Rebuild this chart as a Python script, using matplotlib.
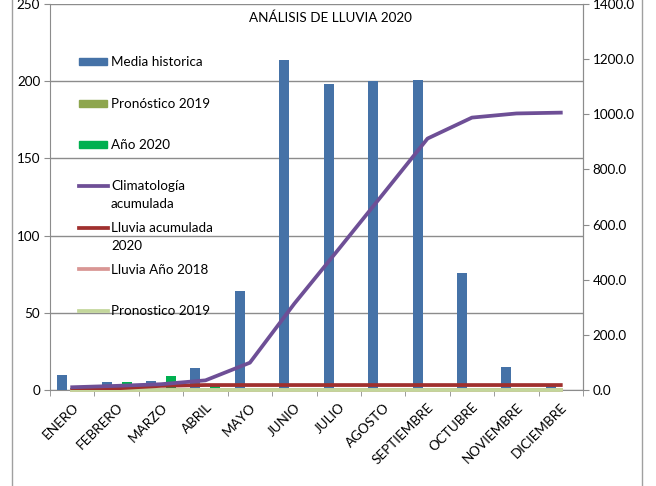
import numpy as np
import matplotlib
matplotlib.use('Agg')
import matplotlib.pyplot as plt
from matplotlib.lines import Line2D
from matplotlib.patches import Rectangle

plt.rcParams['font.family'] = ['Lato', 'DejaVu Sans']

# data
meses = ['ENERO', 'FEBRERO', 'MARZO', 'ABRIL', 'MAYO', 'JUNIO', 'JULIO',
         'AGOSTO', 'SEPTIEMBRE', 'OCTUBRE', 'NOVIEMBRE', 'DICIEMBRE']
media_historica = [10, 5, 6, 14, 64, 214, 198, 200, 201, 76, 15, 3]
pronostico_2019_bar = [0] * 12
anio_2020 = [1, 5, 9, 3, 0, 0, 0, 0, 0, 0, 0, 0]
lluvia_2018 = [0] * 12
pronostico_2019_line = [0] * 12

climatologia_acum = np.cumsum(media_historica)
lluvia_acum_2020 = np.cumsum(anio_2020)

# colours
BLUE = '#4572A7'
OLIVE = '#8EA64E'
GREEN = '#00B050'
PURPLE = '#6E4F96'
DARKRED = '#A0302E'
PINK = '#D99694'
LIGHTGREEN = '#C3D69B'
GRID = '#8C8C8C'

LW = 2.7
FS = 9.7

fig = plt.figure(figsize=(6.56, 4.86), dpi=100)
ax = fig.add_axes([50 / 656, 1 - 390 / 486, 533 / 656, 386 / 486])
ax2 = ax.twinx()

x = np.arange(len(meses))
w = 0.225
ax.bar(x - w, media_historica, w, color=BLUE, zorder=3)
ax.bar(x, pronostico_2019_bar, w, color=OLIVE, zorder=3)
ax.bar(x + w, anio_2020, w, color=GREEN, zorder=3)

ax2.plot(x, pronostico_2019_line, color=LIGHTGREEN, lw=LW, zorder=2, clip_on=False)
ax2.plot(x, lluvia_2018, color=PINK, lw=LW, zorder=1, clip_on=False)
ax2.plot(x, lluvia_acum_2020, color=DARKRED, lw=LW, zorder=4)
ax2.plot(x, climatologia_acum, color=PURPLE, lw=LW, zorder=5)

ax.set_xlim(-0.5, 11.5)
ax.set_ylim(0, 250)
ax2.set_ylim(0, 1400)
ax.set_yticks(np.arange(0, 251, 50))
ax2.set_yticks(np.arange(0, 1401, 200))
ax2.set_yticklabels(['%.1f' % v for v in np.arange(0, 1401, 200)])

ax.set_xticks(x)
ax.set_xticklabels(meses, rotation=45, ha='right', rotation_mode='anchor')
ax.set_xticks(np.arange(-0.5, 12, 1), minor=True)
ax.tick_params(axis='x', which='major', length=0, pad=8, labelsize=FS)
ax.tick_params(axis='x', which='minor', length=4, color=GRID, direction='out')
ax.tick_params(axis='y', length=4, color=GRID, labelsize=FS, pad=3)
ax2.tick_params(axis='y', length=4, color=GRID, labelsize=FS, pad=3)

ax.yaxis.grid(True, color=GRID, lw=1)
ax.set_axisbelow(True)
for a in (ax, ax2):
    a.spines['top'].set_visible(False)
    for s in ('left', 'right', 'bottom'):
        a.spines[s].set_color(GRID)
ax2.spines['left'].set_visible(False)
ax2.spines['bottom'].set_visible(False)
ax.set_zorder(ax2.get_zorder() - 1)
ax2.patch.set_visible(False)
ax.patch.set_visible(True)

# legend, drawn by hand to copy the widely spaced excel layout
entradas = [('Media historica', 'bar', BLUE),
            ('Pronóstico 2019', 'bar', OLIVE),
            ('Año 2020', 'bar', GREEN),
            ('Climatología\nacumulada', 'line', PURPLE),
            ('Lluvia acumulada\n2020', 'line', DARKRED),
            ('Lluvia Año 2018', 'line', PINK),
            ('Pronostico 2019', 'line', LIGHTGREEN)]
y0, dy = 62, 41.5
for i, (label, kind, color) in enumerate(entradas):
    yp = 1 - (y0 + i * dy) / 486
    if kind == 'bar':
        fig.add_artist(Rectangle((79 / 656, yp - 3.5 / 486), 28 / 656, 7 / 486,
                                 color=color, transform=fig.transFigure))
    else:
        fig.add_artist(Line2D([79 / 656, 108 / 656], [yp, yp], color=color,
                              lw=LW, transform=fig.transFigure))
    fig.text(111 / 656, yp + 6 / 486, label, fontsize=FS, va='top', ha='left',
             linespacing=1.55)

fig.text(330 / 656, 1 - 18 / 486, 'ANÁLISIS DE LLUVIA 2020', fontsize=FS,
         ha='center', va='center')

# chart area border
for xb in (12, 642):
    fig.add_artist(Line2D([xb / 656, xb / 656], [0, 1], color='#A0A0A0',
                          lw=1, transform=fig.transFigure))

fig.savefig('out.png', dpi=100)
